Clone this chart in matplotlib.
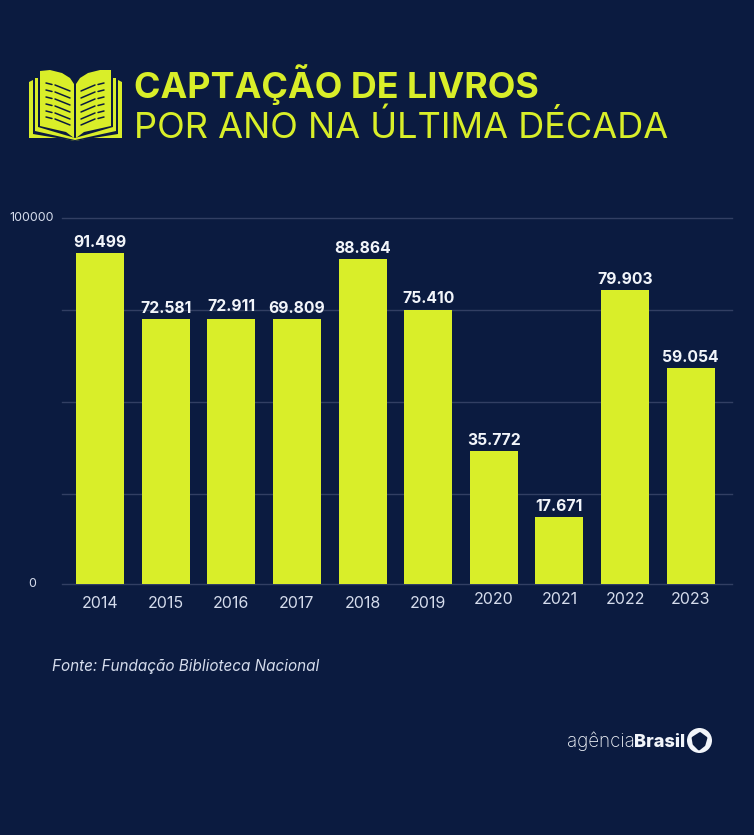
import numpy as np
import matplotlib
matplotlib.use('Agg')
import matplotlib.pyplot as plt
from matplotlib.patches import Polygon, Circle

BG = '#0b1b40'
LIME = '#d9ee29'
WHITE = '#f2f5fa'
SOFT = '#d5dcec'
GRID = '#323f63'

years = ['2014', '2015', '2016', '2017', '2018', '2019', '2020', '2021', '2022', '2023']
value_labels = ['91.499', '72.581', '72.911', '69.809', '88.864',
                '75.410', '35.772', '17.671', '79.903', '59.054']
# heights as drawn in the picture, they do not follow the labels exactly
bar_heights = [90400, 72400, 72400, 72400, 88800, 74900, 36300, 18300, 80300, 59000]
grid_values = [0, 24600, 49700, 74800, 100000]

W, H = 754, 835
plt.rcParams['font.family'] = ['Inter', 'DejaVu Sans']

fig = plt.figure(figsize=(W / 100, H / 100), dpi=100, facecolor=BG)

# whole figure overlay in pixels, y going down, for title, icon and logo
bg = fig.add_axes([0, 0, 1, 1])
bg.set_xlim(0, W)
bg.set_ylim(H, 0)
bg.axis('off')

ax = fig.add_axes([62 / W, 1 - 584 / H, 670 / W, 366 / H], facecolor='none')
x = np.arange(len(years))
ax.bar(x, bar_heights, width=0.73, color=LIME, zorder=3)
ax.set_xlim(-0.58, 9.63)
ax.set_ylim(0, 100000)
ax.set_yticks(grid_values)
ax.set_yticklabels([])
ax.set_xticks(x)
ax.set_xticklabels(years, color=SOFT, fontsize=11.5)
ax.tick_params(axis='y', length=0)
ax.tick_params(axis='x', length=0, pad=9)
# last four years sit a bit higher
for tick in ax.get_xticklabels()[6:]:
    tick.set_y(0.012)
ax.grid(axis='y', color=GRID, lw=1, zorder=1)
for line in ax.get_ygridlines():
    line.set_clip_on(False)
for s in ax.spines.values():
    s.set_visible(False)

# the two y labels are not right aligned with each other
ax.annotate('100000', xy=(0, 100000), xycoords=('axes fraction', 'data'), xytext=(-8, 0),
            textcoords='offset pixels', ha='right', va='center', color=SOFT, fontsize=9)
ax.annotate('0', xy=(0, 0), xycoords=('axes fraction', 'data'), xytext=(-26, 0),
            textcoords='offset pixels', ha='right', va='center', color=SOFT, fontsize=9)

label_lift = [800, 800, 1300, 800, 800, 1000, 800, 800, 800, 800]
for i, lab in enumerate(value_labels):
    ax.text(i, bar_heights[i] + label_lift[i], lab, ha='center', va='bottom',
            color=WHITE, fontsize=11.3, fontweight='bold', zorder=4)

# title
bg.text(134, 98, 'CAPTAÇÃO DE LIVROS', color=LIME, fontsize=25.85, fontweight='bold', va='baseline')
bg.text(134, 138, 'POR ANO NA ÚLTIMA DÉCADA', color=LIME, fontsize=26.05, fontweight='normal', va='baseline')

# book icon, layered from the back
bg.add_patch(Polygon([(29, 82), (33, 80), (118, 80), (122, 82), (122, 138), (90, 138),
                      (75, 141), (60, 138), (29, 138)], fc=LIME, ec='none'))
bg.add_patch(Polygon([(33, 76), (118, 76), (118, 134), (75, 141), (33, 134)], fc=BG, ec='none'))
bg.add_patch(Polygon([(35, 78), (116, 78), (116, 131), (75, 140), (35, 131)], fc=LIME, ec='none'))
bg.add_patch(Polygon([(38, 68), (113, 68), (113, 127), (75, 138), (38, 127)], fc=BG, ec='none'))
bg.add_patch(Polygon([(40, 71), (50, 70), (62, 73), (70, 78), (74, 84), (74, 138), (66, 132), (40, 126)],
                     fc=LIME, ec='none'))
bg.add_patch(Polygon([(111, 70), (100, 70), (88, 73), (80, 78), (76, 84), (76, 138), (84, 132), (111, 126)],
                     fc=LIME, ec='none'))
for y0 in [84, 91, 98, 105, 112, 118]:
    bg.plot([46, 52], [y0 - 1, y0 + 0.5], color=BG, lw=1.1, solid_capstyle='round')
    bg.plot([55, 70], [y0 + 1, y0 + 7], color=BG, lw=1.1, solid_capstyle='round')
    bg.plot([104, 98], [y0 - 1, y0 + 0.5], color=BG, lw=1.1, solid_capstyle='round')
    bg.plot([95, 81], [y0 + 1, y0 + 7], color=BG, lw=1.1, solid_capstyle='round')

# source
bg.text(52, 667, 'Fonte: Fundação Biblioteca Nacional', color=SOFT, fontsize=11,
        style='italic', va='center')

# logo
bg.text(567, 747, 'agência', color=WHITE, fontsize=13.5, fontweight='light', va='baseline')
bg.text(634, 747, 'Brasil', color=WHITE, fontsize=13.1, fontweight='heavy', va='baseline')
bg.add_patch(Circle((699.5, 740.5), 12.5, fc=WHITE, ec='none'))
bg.add_patch(Polygon([(693, 738), (700, 733.5), (706, 738), (704, 745), (699, 749), (694, 744)],
                     fc=BG, ec=BG, lw=2, joinstyle='round'))

fig.savefig('out.png', dpi=100, facecolor=BG)
